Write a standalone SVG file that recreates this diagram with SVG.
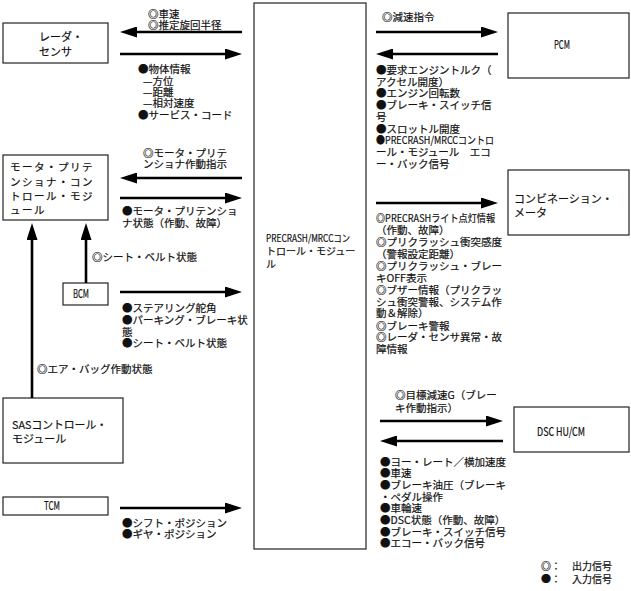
<svg xmlns="http://www.w3.org/2000/svg" width="631" height="591" viewBox="0 0 631 591">
<style>
text{font-family:"Noto Sans CJK JP","Noto Sans",sans-serif;fill:#111;stroke:#111;stroke-width:0.2;}
.l{font-size:10.5px;}
.b{font-size:11px;}
.m{font-size:10.5px;letter-spacing:1.5px;}
.c{font-size:10px;}
.n{font-size:11.5px;}
.box{fill:#fff;stroke:#222;stroke-width:1.2;}
.ar{stroke:#000;stroke-width:2.6;fill:none;marker-end:url(#ah);}
</style>
<defs>
<marker id="ah" viewBox="0 0 17 11" refX="7" refY="5.5" markerWidth="17" markerHeight="11" markerUnits="userSpaceOnUse" orient="auto"><path d="M0,0 L17,5.5 L0,11 z" fill="#000"/></marker>
</defs>
<rect width="631" height="591" fill="#fff"/>

<g id="radar">
<rect class="box" x="3" y="23" width="105" height="40"/>
<text class="b" x="39" y="41">レーダ・</text>
<text class="b" x="39" y="56">センサ</text>
</g>

<g id="motor">
<rect class="box" x="3" y="155" width="105" height="65"/>
<text class="m" x="10" y="171">モータ・プリテ</text>
<text class="m" x="10" y="186">ンショナ・コン</text>
<text class="m" x="10" y="200">トロール・モジ</text>
<text class="m" x="10" y="214">ュール</text>
</g>

<g id="bcm">
<rect class="box" x="63" y="283" width="45" height="22"/>
<text class="n" x="81" y="298" text-anchor="middle" textLength="16" lengthAdjust="spacingAndGlyphs">BCM</text>
</g>

<g id="sas">
<rect class="box" x="3" y="398" width="120" height="65"/>
<text class="b" x="12" y="429" textLength="95" lengthAdjust="spacingAndGlyphs">SASコントロール・</text>
<text class="b" x="12" y="443">モジュール</text>
</g>

<g id="tcm">
<rect class="box" x="3" y="497" width="105" height="18"/>
<text class="n" x="52" y="510" text-anchor="middle" textLength="16" lengthAdjust="spacingAndGlyphs">TCM</text>
</g>

<g id="precrash">
<rect class="box" x="254" y="3" width="112" height="546"/>
<text class="c" x="266" y="242" textLength="84" lengthAdjust="spacingAndGlyphs">PRECRASH/MRCCコン</text>
<text class="c" x="266" y="255">トロール・モジュー</text>
<text class="c" x="266" y="268">ル</text>
</g>

<g id="pcm">
<rect class="box" x="508" y="13" width="121" height="65"/>
<text class="n" x="562" y="49" text-anchor="middle" textLength="16" lengthAdjust="spacingAndGlyphs">PCM</text>
</g>

<g id="meter">
<rect class="box" x="508" y="170" width="121" height="65"/>
<text class="b" x="514" y="203">コンビネーション・</text>
<text class="b" x="514" y="217">メータ</text>
</g>

<g id="dsc">
<rect class="box" x="514" y="407" width="115" height="45"/>
<text class="n" x="537" y="436" textLength="48" lengthAdjust="spacingAndGlyphs">DSC HU/CM</text>
</g>

<g id="connectors">
<path class="ar" d="M242,32 H130"/>
<path class="ar" d="M120,54 H232"/>
<path class="ar" d="M242,178 H130"/>
<path class="ar" d="M120,198 H232"/>
<path class="ar" d="M120,292 H232"/>
<path class="ar" d="M120,508 H232"/>
<path class="ar" d="M32,398 V233"/>
<path class="ar" d="M86,283 V233"/>
<path class="ar" d="M376,32 H488"/>
<path class="ar" d="M498,54 H386"/>
<path class="ar" d="M376,203 H488"/>
<path class="ar" d="M380,421 H493"/>
<path class="ar" d="M503,441 H390"/>
</g>

<g id="labels">
<text class="l" x="148" y="18">◎車速</text>
<text class="l" x="148" y="29">◎推定旋回半径</text>
<text class="l" x="138" y="73">●物体情報</text>
<text class="l" x="143" y="85">—方位</text>
<text class="l" x="143" y="96">—距離</text>
<text class="l" x="143" y="107">—相対速度</text>
<text class="l" x="138" y="119">●サービス・コード</text>

<text class="l" x="143" y="157">◎モータ・プリテ</text>
<text class="l" x="143" y="168">ンショナ作動指示</text>
<text class="l" x="122" y="215">●モータ・プリテンショ</text>
<text class="l" x="122" y="227">ナ状態（作動、故障）</text>

<text class="l" x="92" y="261">◎シート・ベルト状態</text>

<text class="l" x="122" y="312">●ステアリング舵角</text>
<text class="l" x="122" y="324">●パーキング・ブレーキ状</text>
<text class="l" x="122" y="336">態</text>
<text class="l" x="122" y="347">●シート・ベルト状態</text>

<text class="l" x="37" y="373">◎エア・バッグ作動状態</text>

<text class="l" x="122" y="527">●シフト・ポジション</text>
<text class="l" x="122" y="538">●ギヤ・ポジション</text>

<text class="l" x="382" y="21">◎減速指令</text>
<text class="l" x="376" y="74">●要求エンジントルク（</text>
<text class="l" x="376" y="85.7">アクセル開度）</text>
<text class="l" x="376" y="97.4">●エンジン回転数</text>
<text class="l" x="376" y="109.1">●ブレーキ・スイッチ信</text>
<text class="l" x="376" y="120.8">号</text>
<text class="l" x="376" y="132.5">●スロットル開度</text>
<text class="l" x="376" y="144.2" textLength="118" lengthAdjust="spacingAndGlyphs">●PRECRASH/MRCCコントロ</text>
<text class="l" x="376" y="155.9">ール・モジュール　エコ</text>
<text class="l" x="376" y="167.6">ー・バック信号</text>

<text class="l" x="376" y="222.3" textLength="119" lengthAdjust="spacingAndGlyphs">◎PRECRASHライト点灯情報</text>
<text class="l" x="376" y="234">（作動、故障）</text>
<text class="l" x="376" y="245.7">◎プリクラッシュ衝突感度</text>
<text class="l" x="376" y="258">（警報設定距離）</text>
<text class="l" x="376" y="270">◎プリクラッシュ・ブレー</text>
<text class="l" x="376" y="281.7">キOFF表示</text>
<text class="l" x="376" y="294">◎ブザー情報（プリクラッ</text>
<text class="l" x="376" y="305.7">シュ衝突警報、システム作</text>
<text class="l" x="376" y="317.3">動＆解除）</text>
<text class="l" x="376" y="329.7">◎ブレーキ警報</text>
<text class="l" x="376" y="341.3">◎レーダ・センサ異常・故</text>
<text class="l" x="376" y="353.3">障情報</text>

<text class="l" x="395" y="399">◎目標減速G（ブレー</text>
<text class="l" x="395" y="412">キ作動指示）</text>
<text class="l" x="380" y="465.7">●ヨー・レート／横加速度</text>
<text class="l" x="380" y="477.3">●車速</text>
<text class="l" x="380" y="489">●ブレーキ油圧（ブレーキ</text>
<text class="l" x="380" y="500.7">・ペダル操作</text>
<text class="l" x="380" y="512.3">●車輪速</text>
<text class="l" x="380" y="524">●DSC状態（作動、故障）</text>
<text class="l" x="380" y="535.7">●ブレーキ・スイッチ信号</text>
<text class="l" x="380" y="547.3">●エコー・バック信号</text>

<text class="c" x="541" y="570">◎：</text>
<text class="c" x="572" y="570">出力信号</text>
<text class="c" x="541" y="583">●：</text>
<text class="c" x="572" y="583">入力信号</text>
</g>
</svg>
